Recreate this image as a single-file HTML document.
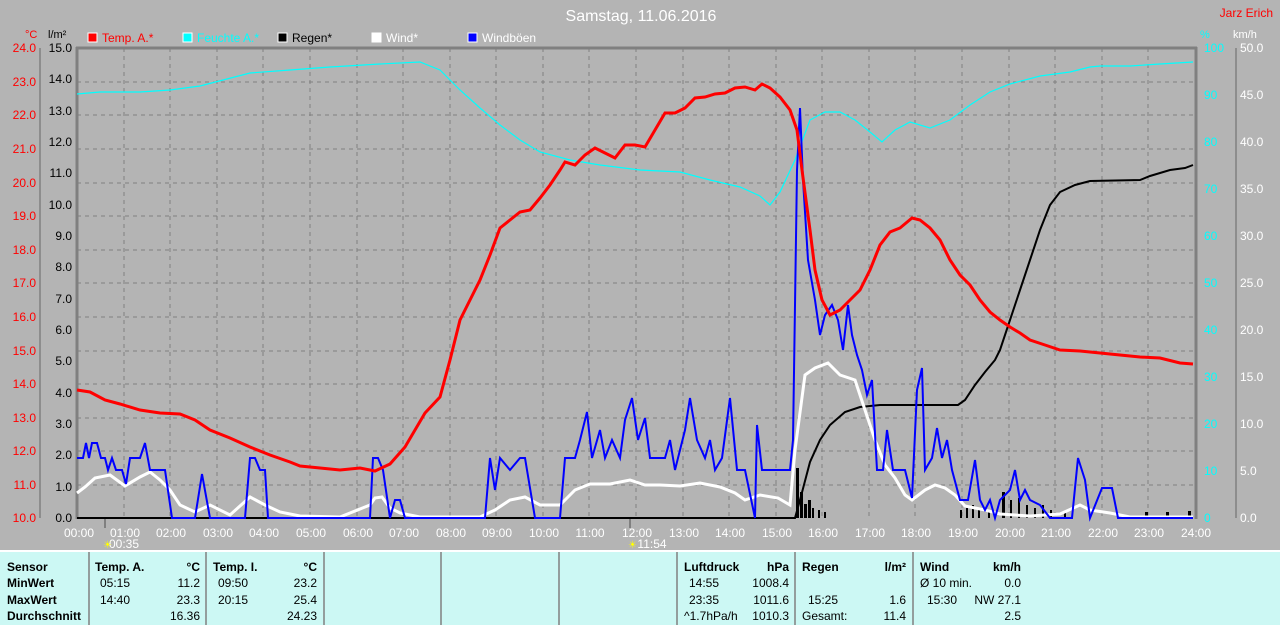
<!DOCTYPE html>
<html><head><meta charset="utf-8"><style>
body{margin:0;width:1280px;height:625px;background:#b4b4b4;overflow:hidden;font-family:"Liberation Sans",sans-serif}
svg{position:absolute;left:0;top:0}
</style></head><body>
<svg width="1280" height="625" xmlns="http://www.w3.org/2000/svg" font-family="Liberation Sans, sans-serif">
<rect width="1280" height="625" fill="#b4b4b4"/>
<text x="641" y="21" fill="#fff" font-size="16" text-anchor="middle">Samstag, 11.06.2016</text>
<text x="1273" y="17" fill="#f00" font-size="12" text-anchor="end">Jarz Erich</text>
<text x="25" y="38" fill="#f00" font-size="11">°C</text>
<text x="48" y="38" fill="#000" font-size="11">l/m²</text>
<text x="1200" y="38" fill="#0ff" font-size="11">%</text>
<text x="1233" y="38" fill="#fff" font-size="11">km/h</text>
<g font-size="12">
<rect x="88" y="33" width="9" height="9" fill="#f00" stroke="#fff"/><text x="102" y="42" fill="#f00">Temp. A.*</text>
<rect x="183" y="33" width="9" height="9" fill="#0ff" stroke="#fff"/><text x="197" y="42" fill="#0ff">Feuchte A.*</text>
<rect x="278" y="33" width="9" height="9" fill="#000" stroke="#fff"/><text x="292" y="42" fill="#000">Regen*</text>
<rect x="372" y="33" width="9" height="9" fill="#fff" stroke="#fff"/><text x="386" y="42" fill="#fff">Wind*</text>
<rect x="468" y="33" width="9" height="9" fill="#00f" stroke="#fff"/><text x="482" y="42" fill="#fff">Windböen</text>
</g>
<g id="grid" stroke="#808080" stroke-dasharray="4,4" stroke-width="1">
<path d="M77 82H1195M77 115H1195M77 149H1195M77 183H1195M77 216H1195M77 250H1195M77 283H1195M77 317H1195M77 351H1195M77 384H1195M77 418H1195M77 451H1195M77 485H1195"/>
<path d="M124 48V518M170 48V518M217 48V518M263 48V518M310 48V518M357 48V518M403 48V518M450 48V518M496 48V518M543 48V518M589 48V518M636 48V518M683 48V518M729 48V518M776 48V518M822 48V518M869 48V518M915 48V518M962 48V518M1009 48V518M1055 48V518M1102 48V518M1148 48V518"/>
</g>
<path d="M76 48H1197M77 47V519M1196 47V519" stroke="#808080" stroke-width="3" fill="none"/>
<path d="M40 48V518M1236 48V518" stroke="#808080" stroke-width="1.5"/>
<g font-size="12" fill="#f00" text-anchor="end">
<text x="36" y="52">24.0</text><text x="36" y="86">23.0</text><text x="36" y="119">22.0</text><text x="36" y="153">21.0</text><text x="36" y="187">20.0</text><text x="36" y="220">19.0</text><text x="36" y="254">18.0</text><text x="36" y="287">17.0</text><text x="36" y="321">16.0</text><text x="36" y="355">15.0</text><text x="36" y="388">14.0</text><text x="36" y="422">13.0</text><text x="36" y="455">12.0</text><text x="36" y="489">11.0</text><text x="36" y="522">10.0</text>
</g>
<g font-size="12" fill="#000" text-anchor="end">
<text x="72" y="52">15.0</text><text x="72" y="83">14.0</text><text x="72" y="115">13.0</text><text x="72" y="146">12.0</text><text x="72" y="177">11.0</text><text x="72" y="209">10.0</text><text x="72" y="240">9.0</text><text x="72" y="271">8.0</text><text x="72" y="303">7.0</text><text x="72" y="334">6.0</text><text x="72" y="365">5.0</text><text x="72" y="397">4.0</text><text x="72" y="428">3.0</text><text x="72" y="459">2.0</text><text x="72" y="491">1.0</text><text x="72" y="522">0.0</text>
</g>
<g font-size="12" fill="#0ff">
<text x="1204" y="52">100</text><text x="1204" y="99">90</text><text x="1204" y="146">80</text><text x="1204" y="193">70</text><text x="1204" y="240">60</text><text x="1204" y="287">50</text><text x="1204" y="334">40</text><text x="1204" y="381">30</text><text x="1204" y="428">20</text><text x="1204" y="475">10</text><text x="1204" y="522">0</text>
</g>
<g font-size="12" fill="#fff">
<text x="1240" y="52">50.0</text><text x="1240" y="99">45.0</text><text x="1240" y="146">40.0</text><text x="1240" y="193">35.0</text><text x="1240" y="240">30.0</text><text x="1240" y="287">25.0</text><text x="1240" y="334">20.0</text><text x="1240" y="381">15.0</text><text x="1240" y="428">10.0</text><text x="1240" y="475">5.0</text><text x="1240" y="522">0.0</text>
</g>
<g font-size="12" fill="#fff" text-anchor="middle">
<text x="79" y="537">00:00</text><text x="125" y="537">01:00</text><text x="171" y="537">02:00</text><text x="218" y="537">03:00</text><text x="264" y="537">04:00</text><text x="311" y="537">05:00</text><text x="358" y="537">06:00</text><text x="404" y="537">07:00</text><text x="451" y="537">08:00</text><text x="497" y="537">09:00</text><text x="544" y="537">10:00</text><text x="590" y="537">11:00</text><text x="637" y="537">12:00</text><text x="684" y="537">13:00</text><text x="730" y="537">14:00</text><text x="777" y="537">15:00</text><text x="823" y="537">16:00</text><text x="870" y="537">17:00</text><text x="916" y="537">18:00</text><text x="963" y="537">19:00</text><text x="1010" y="537">20:00</text><text x="1056" y="537">21:00</text><text x="1103" y="537">22:00</text><text x="1149" y="537">23:00</text><text x="1196" y="537">24:00</text>
<text x="124" y="548">00:35</text><text x="652" y="548">11:54</text>
</g>
<text x="103" y="548" fill="#ff0" font-size="10">☀</text><text x="628" y="548" fill="#ff0" font-size="10">☀</text>
<path d="M105 518V528M630 518V528" stroke="#808080" stroke-width="2"/>
<polyline fill="none" stroke="#0ff" stroke-width="1.2" points="77,94 100,92 140,92 170,90 200,86 250,73 290,70 330,67 380,64 420,62 440,70 460,90 480,108 500,125 520,140 540,152 570,160 600,165 640,170 680,172 710,180 740,187 760,196 770,205 780,192 795,160 810,120 825,112 840,112 855,120 870,132 882,142 895,130 910,122 930,128 950,120 970,105 990,92 1010,84 1040,76 1070,72 1090,67 1100,66 1130,66 1160,64 1193,62"/>
<g fill="#000">
<rect x="796" y="468" width="3" height="50"/><rect x="800" y="492" width="3" height="26"/><rect x="804" y="504" width="3" height="14"/><rect x="808" y="500" width="3" height="18"/><rect x="812" y="508" width="2" height="10"/><rect x="818" y="510" width="2" height="8"/><rect x="824" y="512" width="2" height="6"/>
<rect x="960" y="510" width="2" height="8"/><rect x="966" y="508" width="2" height="10"/><rect x="972" y="505" width="2" height="13"/><rect x="978" y="510" width="2" height="8"/><rect x="988" y="510" width="2" height="8"/><rect x="1002" y="492" width="3" height="26"/><rect x="1010" y="500" width="2" height="18"/><rect x="1018" y="498" width="2" height="20"/><rect x="1026" y="505" width="2" height="13"/><rect x="1034" y="508" width="2" height="10"/><rect x="1042" y="505" width="2" height="13"/><rect x="1050" y="510" width="2" height="8"/><rect x="1064" y="512" width="2" height="6"/><rect x="1145" y="512" width="3" height="6"/><rect x="1166" y="512" width="3" height="6"/><rect x="1188" y="511" width="3" height="7"/>
</g>
<polyline fill="none" stroke="#000" stroke-width="2" points="77,518 795,518 800,500 810,462 820,440 830,425 845,412 860,407 880,405 920,405 958,405 965,400 975,385 985,372 995,360 1000,350 1010,320 1020,290 1030,260 1040,230 1050,205 1060,192 1075,185 1090,181 1140,180 1150,176 1170,170 1185,168 1193,165"/>
<polyline fill="none" stroke="#fff" stroke-width="3" points="77,493 85,487 95,478 110,475 125,486 140,477 150,472 160,480 170,490 180,505 195,512 210,505 230,515 250,497 265,505 280,512 300,516 340,517 370,505 375,498 382,497 390,508 400,513 420,517 480,517 495,510 510,500 525,497 540,505 560,505 575,490 590,484 610,484 630,480 645,485 660,485 680,486 700,483 720,487 735,493 745,500 760,495 778,498 790,505 795,450 805,375 815,368 828,363 840,375 855,380 865,410 875,440 885,465 895,478 905,495 912,500 925,490 935,485 945,488 955,495 965,506 985,510 1000,514 1030,516 1060,514 1080,505 1090,510 1110,513 1130,517 1193,517"/>
<polyline fill="none" stroke="#00f" stroke-width="2" points="77,458 83,458 86,443 89,458 92,443 97,443 101,458 105,458 108,470 112,458 116,470 122,470 126,484 130,458 140,458 145,443 150,470 165,470 172,518 195,518 202,474 210,518 245,518 250,458 255,458 260,470 265,470 268,518 370,518 373,458 378,458 383,470 390,518 395,500 400,500 405,518 485,518 490,458 495,490 500,458 510,470 520,458 525,458 535,518 560,518 565,458 575,458 580,440 587,412 592,458 600,430 605,458 612,440 620,458 625,420 632,398 638,440 645,418 650,458 665,458 670,440 675,470 685,430 690,398 697,440 705,458 710,440 715,470 722,458 730,398 737,470 745,470 755,518 757,425 762,470 790,470 793,440 797,170 800,108 803,180 808,260 815,300 820,335 825,315 832,305 838,320 843,350 848,305 852,335 857,355 862,370 867,395 872,380 877,470 883,470 887,430 893,470 905,470 912,498 917,390 922,368 925,470 932,458 937,428 942,458 947,440 952,470 960,500 968,500 975,460 980,500 985,510 990,500 995,518 1000,500 1010,490 1015,470 1020,500 1025,490 1030,500 1040,505 1050,518 1072,518 1078,458 1085,480 1090,518 1102,488 1112,488 1118,518 1193,518"/>
<polyline fill="none" stroke="#f00" stroke-width="3" points="77,390 90,392 105,400 120,404 140,410 160,413 180,414 195,420 210,430 230,438 250,447 270,455 290,462 300,466 320,468 340,470 360,468 375,471 390,464 405,447 415,430 425,413 440,397 450,360 460,320 470,300 480,280 490,255 500,228 510,220 520,212 530,210 540,198 550,185 560,170 565,162 575,165 585,155 595,148 605,153 615,158 625,145 635,145 645,147 655,130 665,113 675,113 685,108 695,98 705,97 715,94 725,93 735,88 745,87 755,90 762,84 770,88 780,97 790,110 797,130 802,170 810,230 815,270 822,300 830,315 840,310 850,300 860,290 870,270 880,245 890,232 900,228 912,218 920,220 930,228 940,240 950,260 960,275 970,285 980,300 990,312 1000,320 1010,327 1020,333 1030,340 1045,345 1060,350 1080,351 1100,353 1120,355 1140,357 1160,358 1180,363 1193,364"/>
<rect x="0" y="551" width="1280" height="74" fill="#ccf8f4"/>
<path d="M0 551H1280" stroke="#fff" stroke-width="2"/>
<path d="M89 552V625M206 552V625M324 552V625M441 552V625M559 552V625M677 552V625M795 552V625M913 552V625" stroke="#808080" stroke-width="1.5"/>
<g font-size="12" fill="#000">
<g font-weight="bold"><text x="7" y="571">Sensor</text><text x="7" y="587">MinWert</text><text x="7" y="604">MaxWert</text><text x="7" y="620">Durchschnitt</text>
<text x="95" y="571">Temp. A.</text><text x="200" y="571" text-anchor="end">°C</text>
<text x="213" y="571">Temp. I.</text><text x="317" y="571" text-anchor="end">°C</text>
<text x="684" y="571">Luftdruck</text><text x="789" y="571" text-anchor="end">hPa</text>
<text x="802" y="571">Regen</text><text x="906" y="571" text-anchor="end">l/m²</text>
<text x="920" y="571">Wind</text><text x="1021" y="571" text-anchor="end">km/h</text></g>
<text x="100" y="587">05:15</text><text x="200" y="587" text-anchor="end">11.2</text>
<text x="100" y="604">14:40</text><text x="200" y="604" text-anchor="end">23.3</text>
<text x="200" y="620" text-anchor="end">16.36</text>
<text x="218" y="587">09:50</text><text x="317" y="587" text-anchor="end">23.2</text>
<text x="218" y="604">20:15</text><text x="317" y="604" text-anchor="end">25.4</text>
<text x="317" y="620" text-anchor="end">24.23</text>
<text x="689" y="587">14:55</text><text x="789" y="587" text-anchor="end">1008.4</text>
<text x="689" y="604">23:35</text><text x="789" y="604" text-anchor="end">1011.6</text>
<text x="684" y="620">^1.7hPa/h</text><text x="789" y="620" text-anchor="end">1010.3</text>
<text x="808" y="604">15:25</text><text x="906" y="604" text-anchor="end">1.6</text>
<text x="802" y="620">Gesamt:</text><text x="906" y="620" text-anchor="end">11.4</text>
<text x="920" y="587">Ø 10 min.</text><text x="1021" y="587" text-anchor="end">0.0</text>
<text x="927" y="604">15:30</text><text x="1021" y="604" text-anchor="end">NW 27.1</text>
<text x="1021" y="620" text-anchor="end">2.5</text>
</g>
</svg>
</body></html>
